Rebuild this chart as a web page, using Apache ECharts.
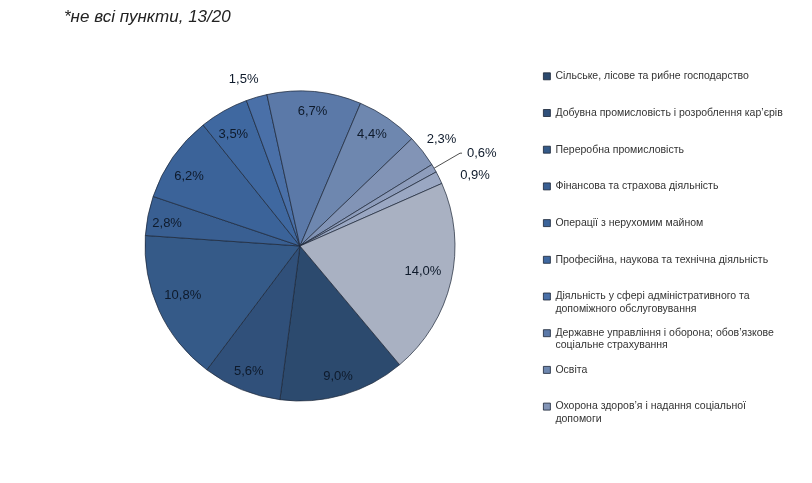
<!DOCTYPE html>
<html><head><meta charset="utf-8">
<script src="https://cdn.jsdelivr.net/npm/echarts@6/dist/echarts.min.js"></script>
<style>html,body{margin:0;padding:0;background:#fff}#c{width:812px;height:483px}</style>
</head><body><div id="c"></div>
<script>
// Categories in clockwise order (first slice starts lower-right)
const categories = [
  'Сільське, лісове та рибне господарство',
  'Добувна промисловість і розроблення кар’єрів',
  'Переробна промисловість',
  'Фінансова та страхова діяльність',
  'Операції з нерухомим майном',
  'Професійна, наукова та технічна діяльність',
  'Діяльність у сфері адміністративного та допоміжного обслуговування',
  'Державне управління і оборона; обов’язкове соціальне страхування',
  'Освіта',
  'Охорона здоров’я і надання соціальної допомоги',
  'Мистецтво, спорт, розваги та відпочинок',
  'Надання інших видів послуг',
  'Оптова та роздрібна торгівля'
];
const values = [9.0, 5.6, 10.8, 2.8, 6.2, 3.5, 1.5, 6.7, 4.4, 2.3, 0.6, 0.9, 14.0];
const legendNames = categories.slice(0, 10);
const titleText = '*не всі пункти, 13/20';

// styling
const palette = ['#2C4A6E','#30507A','#355A88','#395F92','#3B6399','#3F68A0','#4A70A8',
                 '#5B79A8','#6E87AF','#8294B6','#8E9DBC','#9AA7C2','#A9B1C2'];
const outsideIdx = [6, 9, 10, 11];
const leaderIdx = [10];
const labelShift = {
  2: { dx: 6, dy: -7 }, 3: { dy: 4 }, 4: { dy: 8 }, 5: { dy: 6 },
  6: { dx: 12, dy: -1 }, 8: { dx: -5 }, 9: { dx: -15, dy: -1 }, 11: { dy: 6 }, 12: { dx: -9, dy: -5 }
};
const legendWrap = {
  'Діяльність у сфері адміністративного та допоміжного обслуговування': 'Діяльність у сфері адміністративного та\nдопоміжного обслуговування',
  'Державне управління і оборона; обов’язкове соціальне страхування': 'Державне управління і оборона; обов’язкове\nсоціальне страхування',
  'Охорона здоров’я і надання соціальної допомоги': 'Охорона здоров’я і надання соціальної\nдопомоги'
};
const fmt = v => v.toFixed(1).replace('.', ',') + '%';
const FONT = '"Liberation Sans", Arial, sans-serif';

const baseData = categories.map((n, i) => ({ name: n, value: values[i], itemStyle: { color: palette[i] } }));
const labelData = categories.map((n, i) => {
  const out = outsideIdx.includes(i);
  const lead = leaderIdx.includes(i);
  return {
    name: n, value: values[i],
    label: { position: out ? 'outside' : 'inside' },
    labelLine: { show: lead, length: lead ? 30 : 18, length2: lead ? 2 : 0 }
  };
});

const chart = echarts.init(document.getElementById('c'), null, { renderer: 'canvas' });
chart.setOption({
  animation: false,
  title: {
    text: titleText, left: 59, top: 4,
    textStyle: { fontFamily: FONT, fontStyle: 'italic', fontWeight: 'normal', fontSize: 17, color: '#222' }
  },
  legend: {
    orient: 'vertical', left: 538, top: 53,
    data: legendNames.map((n, i) => ({ name: n, itemStyle: { color: palette[i], borderColor: '#1B2536', borderWidth: 0.8 } })),
    icon: 'rect', itemWidth: 7, itemHeight: 7, itemGap: 0.1,
    formatter: name => ' \n' + (legendWrap[name] || name) + (legendWrap[name] ? '' : '\n '),
    textStyle: { fontFamily: FONT, fontSize: 10.5, color: '#333', lineHeight: 12.2 }
  },
  series: [
    {
      type: 'pie', center: [300, 246], radius: 155, startAngle: -50, clockwise: true,
      label: { show: false }, labelLine: { show: false },
      itemStyle: { borderColor: '#1B2536', borderWidth: 0.7 },
      emphasis: { disabled: true },
      data: baseData
    },
    {
      type: 'pie', center: [300, 246], radius: [110, 155], startAngle: -50, clockwise: true,
      silent: true, avoidLabelOverlap: false,
      itemStyle: { color: 'rgba(0,0,0,0)', borderWidth: 0 },
      emphasis: { disabled: true },
      label: {
        show: true, formatter: p => fmt(p.value), minMargin: 0,
        fontFamily: FONT, fontSize: 13, color: '#0E1A2B'
      },
      labelLine: { lineStyle: { color: '#222', width: 0.8 }, smooth: false },
      labelLayout: p => Object.assign({ hideOverlap: false }, labelShift[p.dataIndex] || {}),
      data: labelData
    }
  ]
});
</script></body></html>
